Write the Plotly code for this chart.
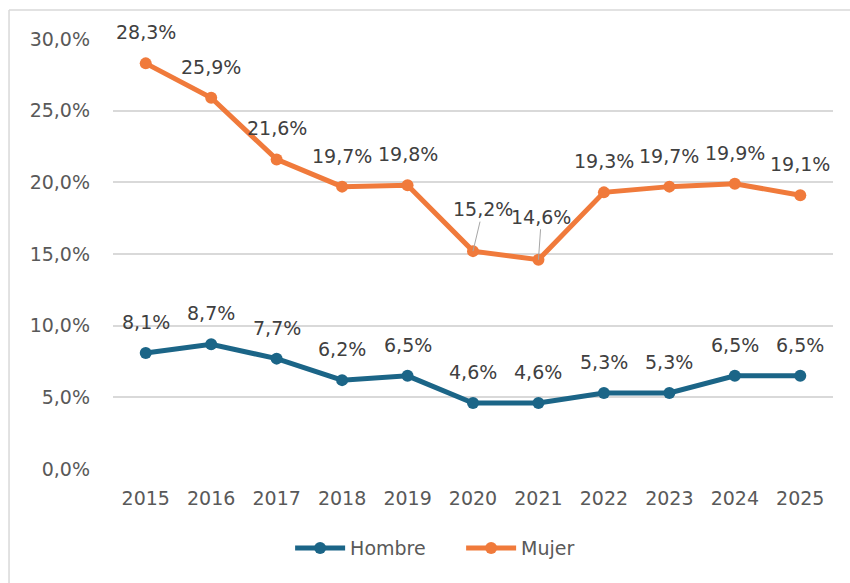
import plotly.graph_objects as go

years = ["2015", "2016", "2017", "2018", "2019", "2020", "2021", "2022", "2023", "2024", "2025"]
hombre = [8.1, 8.7, 7.7, 6.2, 6.5, 4.6, 4.6, 5.3, 5.3, 6.5, 6.5]
mujer = [28.3, 25.9, 21.6, 19.7, 19.8, 15.2, 14.6, 19.3, 19.7, 19.9, 19.1]
y_ticks = [0, 5, 10, 15, 20, 25, 30]
y_tick_labels = ["0,0%", "5,0%", "10,0%", "15,0%", "20,0%", "25,0%", "30,0%"]

C_H = "#1b6587"
C_M = "#f07a3b"
FONT = "DejaVu Sans"
FS = 19

def fmt(v):
    return f"{v:.1f}".replace(".", ",") + "%"

fig = go.Figure()
fig.add_trace(go.Scatter(x=years, y=hombre, name="Hombre", mode="lines+markers",
                         line=dict(color=C_H, width=5), marker=dict(size=12, color=C_H)))
fig.add_trace(go.Scatter(x=years, y=mujer, name="Mujer", mode="lines+markers",
                         line=dict(color=C_M, width=5), marker=dict(size=12, color=C_M)))

annotations = []
for i, v in enumerate(hombre):
    annotations.append(dict(x=i, y=v, xref="x", yref="y", text=fmt(v), showarrow=False,
                            yshift=31, font=dict(size=FS, color="#404040", family=FONT)))
leader = {"2020": (10, -42), "2021": (3, -43)}
for i, (x, v) in enumerate(zip(years, mujer)):
    if x in leader:
        ax, ay = leader[x]
        annotations.append(dict(x=i, y=v, xref="x", yref="y", text=fmt(v), showarrow=True,
                                arrowhead=0, arrowwidth=1, arrowcolor="#a6a6a6", ax=ax, ay=ay,
                                font=dict(size=FS, color="#404040", family=FONT)))
    else:
        annotations.append(dict(x=i, y=v, xref="x", yref="y", text=fmt(v), showarrow=False,
                                yshift=31, font=dict(size=FS, color="#404040", family=FONT)))

fig.update_layout(
    width=850, height=583,
    margin=dict(l=113, r=17, t=39, b=114),
    paper_bgcolor="white", plot_bgcolor="white",
    font=dict(family=FONT, size=FS, color="#595959"),
    showlegend=True,
    legend=dict(orientation="h", x=0.246, xanchor="left", y=-0.184, yanchor="middle",
                font=dict(size=FS, color="#595959", family=FONT), itemwidth=50,
                entrywidth=106, entrywidthmode="pixels"),
    annotations=annotations,
    shapes=[dict(type="line", xref="paper", yref="paper", x0=-0.1444, x1=1.05,
                 y0=1.0674, y1=1.0674, line=dict(color="#d9d9d9", width=1.5)),
            dict(type="line", xref="paper", yref="paper", x0=-0.1444, x1=-0.1444,
                 y0=1.0674, y1=-0.3, line=dict(color="#d9d9d9", width=1.5))],
)
fig.update_xaxes(type="category", range=[-0.5, 10.5], showgrid=False, showline=False,
                 ticks="", ticklabelstandoff=16, tickfont=dict(size=FS, color="#595959"))
fig.update_yaxes(range=[0, 30], tickvals=y_ticks, ticktext=y_tick_labels,
                 showgrid=True, gridcolor="#d9d9d9", gridwidth=1.5, zeroline=False,
                 showline=False, ticks="", ticklabelstandoff=22,
                 tickfont=dict(size=FS, color="#595959"))

fig.write_html("out.html", config={"displayModeBar": False},
               post_script="document.body.style.margin='0';")
